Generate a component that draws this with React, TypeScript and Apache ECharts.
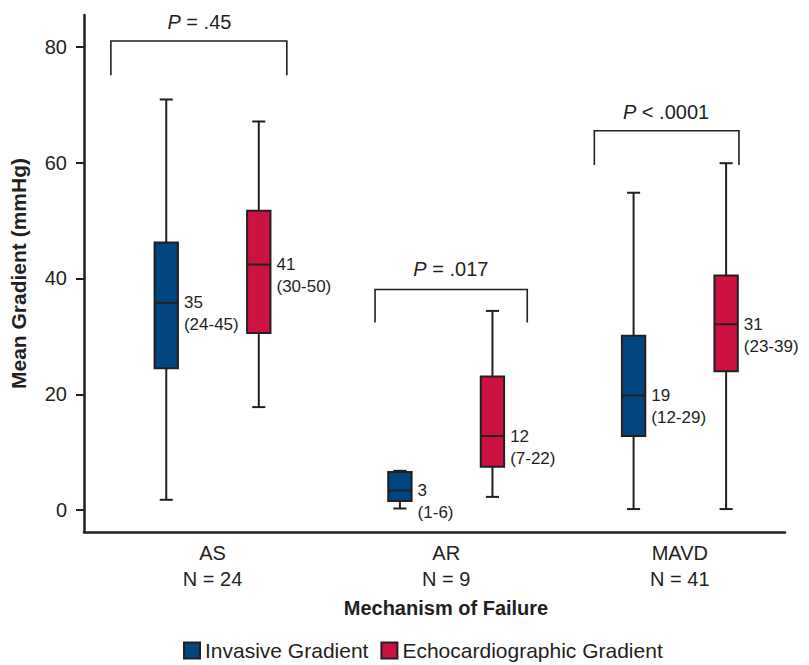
import React, { useEffect, useRef } from 'react';
import * as echarts from 'echarts';

// ---------- data ----------
const categories = ['AS', 'AR', 'MAVD'];
const groupN = [24, 9, 41];

const invasiveMin = [1.8, 0.3, 0.2];
const invasiveQ1 = [24.5, 1.6, 12.8];
const invasiveMedian = [35.8, 3.4, 19.8];
const invasiveQ3 = [46.2, 6.6, 30.1];
const invasiveMax = [70.9, 6.8, 54.8];
const invasiveMedianText = ['35', '3', '19'];
const invasiveRangeText = ['(24-45)', '(1-6)', '(12-29)'];

const echoMin = [17.8, 2.3, 0.2];
const echoQ1 = [30.6, 7.5, 24.0];
const echoMedian = [42.4, 12.8, 32.1];
const echoQ3 = [51.7, 23.1, 40.5];
const echoMax = [67.1, 34.4, 59.9];
const echoMedianText = ['41', '12', '31'];
const echoRangeText = ['(30-50)', '(7-22)', '(23-39)'];

const pValueText = ['= .45', '= .017', '< .0001'];
const yTicks = [0, 20, 40, 60, 80];

// ---------- annotation layout (data units) ----------
const bracketLeft = [-0.435, 0.6955, 1.634];
const bracketRight = [0.318, 1.347, 2.253];
const bracketTop = [81.0, 38.1, 65.5];
const bracketLeg = [75.1, 32.4, 59.6];
const pTextX = [-0.056, 1.02, 1.941];
const pTextY = [84.3, 41.6, 68.8];

const INK = '#231f20';
const BLUE = '#00457f';
const RED = '#cc1240';
const FONT = '"Liberation Sans", Arial, Helvetica, sans-serif';

const makeBoxRender = (offset: number, fill: string, medTxt: string[], rngTxt: string[]) =>
  (params: any, api: any) => {
    const i = api.value(0);
    const x = i + offset;
    const pMin = api.coord([x, api.value(1)]);
    const pQ1 = api.coord([x, api.value(2)]);
    const pMed = api.coord([x, api.value(3)]);
    const pQ3 = api.coord([x, api.value(4)]);
    const pMax = api.coord([x, api.value(5)]);
    const half = api.size([0.05, 0])[0];
    const cap = api.size([0.028, 0])[0];
    const cx = pMed[0];
    const ls = { stroke: INK, lineWidth: 2 };
    return {
      type: 'group',
      children: [
        { type: 'line', shape: { x1: cx, y1: pMax[1], x2: cx, y2: pQ3[1] }, style: ls },
        { type: 'line', shape: { x1: cx, y1: pQ1[1], x2: cx, y2: pMin[1] }, style: ls },
        { type: 'line', shape: { x1: cx - cap, y1: pMax[1], x2: cx + cap, y2: pMax[1] }, style: ls },
        { type: 'line', shape: { x1: cx - cap, y1: pMin[1], x2: cx + cap, y2: pMin[1] }, style: ls },
        {
          type: 'rect',
          shape: { x: cx - half, y: pQ3[1], width: half * 2, height: pQ1[1] - pQ3[1] },
          style: { fill, stroke: INK, lineWidth: 2 },
        },
        { type: 'line', shape: { x1: cx - half, y1: pMed[1], x2: cx + half, y2: pMed[1] }, style: ls },
        {
          type: 'text',
          x: cx + half + 6,
          y: pMed[1],
          style: { text: medTxt[i], fill: INK, font: `17px ${FONT}`, align: 'left', verticalAlign: 'middle' },
        },
        {
          type: 'text',
          x: cx + half + 6,
          y: pMed[1] + 22,
          style: { text: rngTxt[i], fill: INK, font: `17px ${FONT}`, align: 'left', verticalAlign: 'middle' },
        },
      ],
    };
  };

const bracketRender = (params: any, api: any) => {
  const i = params.dataIndex;
  const tl = api.coord([api.value(0), api.value(2)]);
  const tr = api.coord([api.value(1), api.value(2)]);
  const bl = api.coord([api.value(0), api.value(3)]);
  const tp = api.coord([api.value(4), api.value(5)]);
  return {
    type: 'group',
    children: [
      {
        type: 'polyline',
        shape: { points: [[bl[0], bl[1]], [tl[0], tl[1]], [tr[0], tr[1]], [tr[0], bl[1]]] },
        style: { stroke: INK, lineWidth: 1.6, fill: 'none' },
      },
      {
        type: 'text',
        x: tp[0],
        y: tp[1],
        style: {
          text: `{i|P} ${pValueText[i]}`,
          align: 'center',
          verticalAlign: 'middle',
          fill: INK,
          font: `20px ${FONT}`,
          rich: { i: { fontStyle: 'italic', fontSize: 20, fontFamily: FONT, fill: INK } },
        },
      },
    ],
  };
};

export default function App() {
  const ref = useRef<HTMLDivElement>(null);
  useEffect(() => {
    document.body.style.margin = '0';
    if (!ref.current) return;
    const chart = echarts.init(ref.current, undefined, { renderer: 'svg' });
    const invData = categories.map((_, i) => [i, invasiveMin[i], invasiveQ1[i], invasiveMedian[i], invasiveQ3[i], invasiveMax[i]]);
    const echoData = categories.map((_, i) => [i, echoMin[i], echoQ1[i], echoMedian[i], echoQ3[i], echoMax[i]]);
    const bracketData = categories.map((_, i) => [bracketLeft[i], bracketRight[i], bracketTop[i], bracketLeg[i], pTextX[i], pTextY[i]]);
    chart.setOption({
      animation: false,
      backgroundColor: '#ffffff',
      textStyle: { fontFamily: FONT, color: INK },
      grid: { left: 80, right: 24, top: 15, bottom: 133, containLabel: false },
      legend: {
        data: ['Invasive Gradient', 'Echocardiographic Gradient'],
        left: 183,
        top: 640,
        icon: 'rect',
        itemWidth: 16,
        itemHeight: 16,
        itemGap: 12,
        padding: 0,
        textStyle: { fontSize: 21, color: INK, fontFamily: FONT },
      },
      xAxis: {
        type: 'value',
        min: -0.55,
        max: 2.45,
        axisLine: { show: true, onZero: false, lineStyle: { color: INK, width: 2.5 } },
        axisTick: { show: false },
        splitLine: { show: false },
        axisLabel: {
          customValues: [0, 1, 2],
          formatter: (v: number) => {
            const k = Math.round(v);
            return `${categories[k]}\nN = ${groupN[k]}`;
          },
          fontSize: 20,
          lineHeight: 26,
          color: INK,
          margin: 8,
        },
        name: 'Mechanism of Failure',
        nameLocation: 'middle',
        nameGap: 66,
        nameTextStyle: { fontSize: 20, fontWeight: 'bold', color: INK, padding: [0, 0, 0, 23] },
      },
      yAxis: {
        type: 'value',
        min: -3.76,
        max: 85.48,
        axisLine: { show: true, onZero: false, lineStyle: { color: INK, width: 2.5 } },
        axisTick: { show: true, length: 8, customValues: yTicks, lineStyle: { color: INK, width: 2 } },
        splitLine: { show: false },
        axisLabel: { customValues: yTicks, fontSize: 20, color: INK, margin: 17 },
        name: 'Mean Gradient (mmHg)',
        nameLocation: 'middle',
        nameGap: 55,
        nameRotate: 90,
        nameTextStyle: { fontSize: 21, fontWeight: 'bold', color: INK },
      },
      series: [
        {
          name: 'Invasive Gradient',
          type: 'custom',
          renderItem: makeBoxRender(-0.198, BLUE, invasiveMedianText, invasiveRangeText),
          itemStyle: { color: BLUE, borderColor: INK, borderWidth: 1.5 },
          encode: { x: 0, y: [1, 2, 3, 4, 5] },
          data: invData,
        },
        {
          name: 'Echocardiographic Gradient',
          type: 'custom',
          renderItem: makeBoxRender(0.198, RED, echoMedianText, echoRangeText),
          itemStyle: { color: RED, borderColor: INK, borderWidth: 1.5 },
          encode: { x: 0, y: [1, 2, 3, 4, 5] },
          data: echoData,
        },
        {
          name: 'P values',
          type: 'custom',
          renderItem: bracketRender,
          encode: { x: [0, 1, 4], y: [2, 3, 5] },
          data: bracketData,
          silent: true,
        },
      ],
    });
    return () => chart.dispose();
  }, []);
  return <div ref={ref} style={{ width: 809, height: 665 }} />;
}
